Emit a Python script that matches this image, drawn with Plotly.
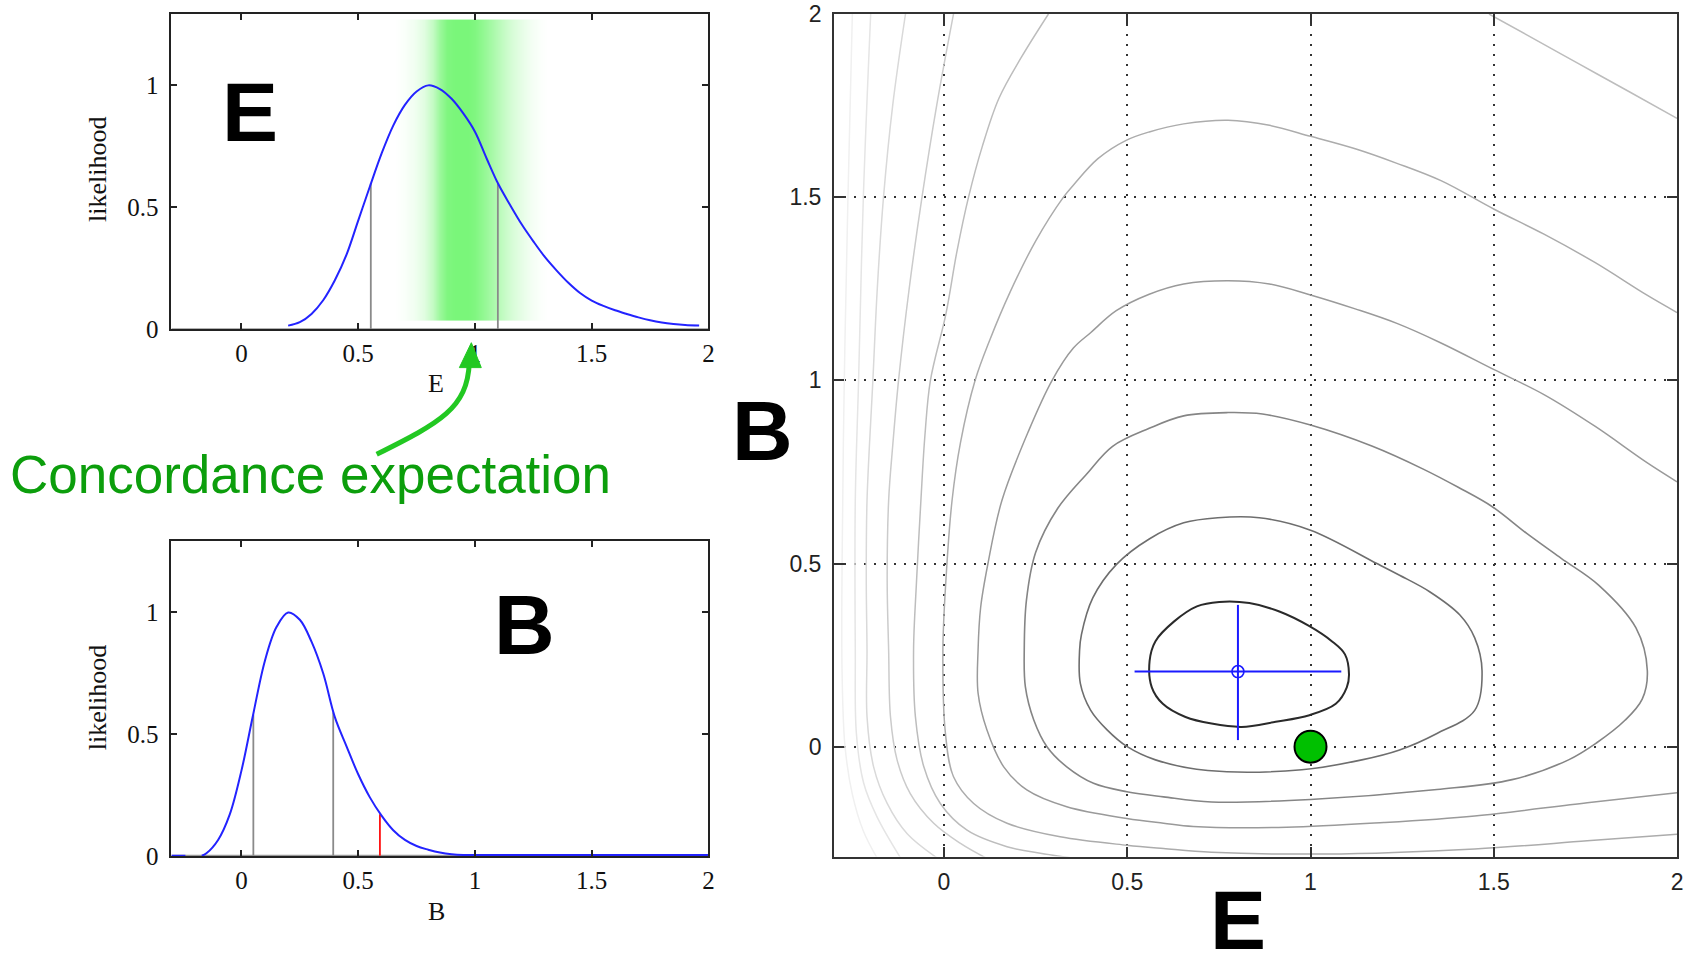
import plotly.graph_objects as go

W, H = 1691, 956

# ---------------- data ----------------
tick_vals = [0, 0.5, 1, 1.5, 2]
tick_text = ["0", "0.5", "1", "1.5", "2"]
like_tick_vals = [0, 0.5, 1]
like_tick_text = ["0", "0.5", "1"]

# E likelihood (top-left)
e_like_x = [0.20, 0.25, 0.30, 0.35, 0.40, 0.45, 0.50, 0.55, 0.60, 0.65, 0.70, 0.75, 0.80,
            0.85, 0.90, 0.95, 1.00, 1.05, 1.10, 1.15, 1.20, 1.25, 1.30, 1.35, 1.40, 1.45,
            1.50, 1.55, 1.60, 1.65, 1.70, 1.75, 1.80, 1.85, 1.90, 1.96]
e_like_y = [0.014, 0.028, 0.062, 0.118, 0.20, 0.305, 0.445, 0.585, 0.72, 0.835, 0.92, 0.975, 1.0,
            0.985, 0.945, 0.885, 0.81, 0.70, 0.595, 0.51, 0.43, 0.36, 0.295, 0.24, 0.19, 0.148,
            0.117, 0.095, 0.077, 0.062, 0.048, 0.036, 0.027, 0.021, 0.017, 0.015]
e_bound_x = [0.554, 1.098]
e_bound_y = [0.597, 0.597]

# concordance expectation band (relative strength across E)
band_e = [0.66, 0.70, 0.74, 0.78, 0.82, 0.85, 0.88, 0.92, 0.97, 1.00, 1.04, 1.08,
          1.12, 1.16, 1.20, 1.24, 1.28, 1.31]
band_level = [0, 0.04, 0.10, 0.22, 0.45, 0.75, 0.95, 1.0, 1.0, 0.95, 0.80, 0.62,
              0.45, 0.30, 0.18, 0.09, 0.03, 0]
band_b_edges = [0.034, 0.65, 1.27]

# B likelihood (bottom-left)
b_like_x = [-0.30, -0.24, None, -0.17, -0.15, -0.10, -0.05, 0.00, 0.05, 0.10, 0.15, 0.20,
            0.25, 0.30, 0.35, 0.40, 0.45, 0.50, 0.55, 0.60, 0.65, 0.70, 0.75, 0.80, 0.85,
            0.90, 0.95, 1.00, 2.00]
b_like_y = [0.0, 0.0, None, 0.0, 0.01, 0.065, 0.17, 0.35, 0.58, 0.80, 0.94, 1.0,
            0.97, 0.88, 0.75, 0.57, 0.45, 0.335, 0.24, 0.165, 0.105, 0.065, 0.04, 0.025, 0.013,
            0.006, 0.003, 0.003, 0.003]
b_bound_x = [0.051, 0.393]
b_bound_y = [0.58, 0.59]
b_obs_x = [0.593]
b_obs_y = [0.171]

# 2-D likelihood contours (E, B), innermost first
c1_e = [0.751, 0.833, 0.915, 0.997, 1.058, 1.094, 1.105, 1.099, 1.069, 0.997, 0.905, 0.812,
        0.73, 0.659, 0.597, 0.567, 0.561, 0.577, 0.628, 0.69, 0.751]
c1_b = [0.395, 0.392, 0.369, 0.329, 0.288, 0.252, 0.198, 0.162, 0.117, 0.086, 0.068, 0.054,
        0.063, 0.081, 0.117, 0.162, 0.234, 0.288, 0.342, 0.383, 0.395]

c2_e = [0.37, 0.375, 0.406, 0.47, 0.56, 0.654, 0.747, 0.86, 1.0, 1.181, 1.243, 1.325, 1.407,
        1.448, 1.468, 1.448, 1.345, 1.243, 1.14, 0.976, 0.72, 0.577, 0.5, 0.445, 0.4, 0.372, 0.37]
c2_b = [0.264, 0.306, 0.406, 0.497, 0.567, 0.611, 0.625, 0.625, 0.591, 0.5, 0.468, 0.423, 0.36,
        0.297, 0.207, 0.099, 0.036, -0.009, -0.036, -0.063, -0.065, -0.036, 0.0, 0.046, 0.10, 0.173, 0.264]

c3_e = [0.219, 0.225, 0.25, 0.31, 0.39, 0.46, 0.56, 0.654, 0.775, 0.869, 1.0, 1.169, 1.309, 1.403,
        1.496, 1.59, 1.684, 1.786, 1.888, 1.919, 1.905, 1.858, 1.78, 1.704, 1.55, 1.345, 1.0, 0.73,
        0.599, 0.499, 0.408, 0.335, 0.281, 0.245, 0.222, 0.219]
c3_b = [0.264, 0.40, 0.53, 0.65, 0.745, 0.82, 0.869, 0.903, 0.912, 0.908, 0.878, 0.82, 0.757, 0.708,
        0.655, 0.582, 0.514, 0.441, 0.324, 0.207, 0.13, 0.072, 0.01, -0.036, -0.09, -0.117, -0.144, -0.151,
        -0.137, -0.123, -0.10, -0.055, 0.0, 0.073, 0.164, 0.264]

c4_e = [2.0, 1.917, 1.777, 1.637, 1.501, 1.356, 1.234, 1.122, 1.0, 0.888, 0.775, 0.654, 0.56, 0.47,
        0.40, 0.353, 0.295, 0.23, 0.158, 0.12, 0.10, 0.093, 0.093, 0.117, 0.163, 0.226, 0.335, 0.499,
        0.599, 0.68, 0.935, 1.2, 1.448, 1.755, 2.0]
c4_b = [0.723, 0.776, 0.874, 0.961, 1.029, 1.102, 1.156, 1.195, 1.233, 1.263, 1.272, 1.263, 1.235, 1.19,
        1.13, 1.088, 1.0, 0.86, 0.672, 0.50, 0.38, 0.264, 0.146, 0.046, -0.055, -0.118, -0.164, -0.196,
        -0.209, -0.218, -0.22, -0.207, -0.189, -0.153, -0.126]

c5_e = [2.0, 1.917, 1.777, 1.637, 1.501, 1.356, 1.234, 1.122, 1.0, 0.888, 0.775, 0.654, 0.56, 0.497,
        0.42, 0.354, 0.326, 0.25, 0.18, 0.125, 0.085, 0.045, 0.022, 0.005, -0.003, 0.004, 0.026, 0.081,
        0.172, 0.317, 0.499, 0.599, 0.73, 1.038, 1.448, 1.755, 2.0]
c5_b = [1.185, 1.233, 1.321, 1.399, 1.467, 1.545, 1.593, 1.632, 1.666, 1.696, 1.71, 1.70, 1.678, 1.655,
        1.605, 1.534, 1.5, 1.38, 1.24, 1.11, 1.0, 0.83, 0.672, 0.45, 0.264, 0.036, -0.082, -0.155,
        -0.209, -0.246, -0.269, -0.278, -0.288, -0.293, -0.279, -0.257, -0.239]

c6_e = [0.285, 0.21, 0.15, 0.105, 0.067, 0.035, 0.005, -0.037, -0.052, -0.063, -0.075, -0.083, -0.078,
        -0.055, -0.01, 0.063, 0.172, 0.263, 0.345, None, 1.487, 1.59, 1.73, 1.871, 2.0]
c6_b = [2.0, 1.88, 1.77, 1.64, 1.5, 1.35, 1.18, 1.0, 0.85, 0.672, 0.45, 0.264, 0.082,
        -0.055, -0.155, -0.228, -0.273, -0.291, -0.303, None, 2.0, 1.943, 1.865, 1.787, 1.715]

c7_e = [0.026, -0.02, -0.06, -0.095, -0.124, -0.14, -0.151, -0.155, -0.151, -0.146, -0.128, -0.092,
        -0.028, 0.045, 0.113]
c7_b = [2.0, 1.75, 1.5, 1.25, 1.0, 0.82, 0.672, 0.45, 0.264, 0.082, -0.036, -0.128,
        -0.209, -0.264, -0.303]

c8_e = [-0.105, -0.14, -0.165, -0.182, -0.194, -0.21, -0.212, -0.21, -0.21, -0.192, -0.155, -0.101, -0.02]
c8_b = [2.0, 1.75, 1.5, 1.25, 1.0, 0.672, 0.45, 0.264, 0.082, -0.055, -0.155, -0.237, -0.303]

c9_e = [-0.2, -0.22, -0.233, -0.242, -0.242, -0.239, -0.219, -0.183, -0.119]
c9_b = [2.0, 1.5, 1.0, 0.672, 0.264, 0.036, -0.10, -0.191, -0.303]

c10_e = [-0.25, -0.262, -0.272, -0.278, -0.278, -0.27, -0.25, -0.22, -0.183]
c10_b = [2.0, 1.5, 1.0, 0.5, 0.2, 0.0, -0.13, -0.23, -0.303]

best_e = [0.802]
best_b = [0.205]
best_e_err = [0.52, 1.084]
best_b_err = [0.018, 0.387]
concord_e = [1.0]
concord_b = [0.0]

contours = [(c1_e, c1_b), (c2_e, c2_b), (c3_e, c3_b), (c4_e, c4_b), (c5_e, c5_b),
            (c6_e, c6_b), (c7_e, c7_b), (c8_e, c8_b), (c9_e, c9_b), (c10_e, c10_b)]
contour_colors = ["#2a2a2a", "#6e6e6e", "#858585", "#9a9a9a", "#acacac",
                  "#bdbdbd", "#cbcbcb", "#d9d9d9", "#e5e5e5", "#f0f0f0"]
contour_widths = [2, 1.6, 1.6, 1.5, 1.5, 1.5, 1.5, 1.5, 1.5, 1.5]

# placement helpers: pixel positions measured on the reference -> paper fractions
X_SHIFT = 3.0
Y_OFF, Y_SCALE = 11.2, 0.975


def px(x):
    return (x + X_SHIFT) / W


def py(y):
    ly = (y - Y_OFF) / Y_SCALE
    ly = min(max(ly, 1.0), H)
    return 1 - ly / H


fig = go.Figure()

# ---- top-left: E likelihood ----
fig.add_trace(go.Heatmap(x=band_e, y=band_b_edges, z=[band_level, band_level],
                         zsmooth="best", showscale=False, hoverinfo="skip",
                         colorscale=[[0, "rgb(255,255,255)"], [1, "rgb(122,246,122)"]],
                         zmin=0, zmax=1, xaxis="x", yaxis="y"))
fig.add_trace(go.Scatter(x=[-0.3, 2], y=[0, 0], mode="lines",
                         line=dict(color="#999999", width=1.5), xaxis="x", yaxis="y"))
vx, vy = [], []
for xv, yv in zip(e_bound_x, e_bound_y):
    vx += [xv, xv, None]
    vy += [0, yv, None]
fig.add_trace(go.Scatter(x=vx, y=vy, mode="lines", line=dict(color="#8a8a8a", width=1.8),
                         xaxis="x", yaxis="y"))
fig.add_trace(go.Scatter(x=e_like_x, y=e_like_y, mode="lines", line=dict(color="#2323ff", width=2),
                         line_shape="spline", xaxis="x", yaxis="y"))

# ---- bottom-left: B likelihood ----
fig.add_trace(go.Scatter(x=[-0.3, 2], y=[0, 0], mode="lines",
                         line=dict(color="#999999", width=2), xaxis="x2", yaxis="y2"))
vx, vy = [], []
for xv, yv in zip(b_bound_x, b_bound_y):
    vx += [xv, xv, None]
    vy += [0, yv, None]
fig.add_trace(go.Scatter(x=vx, y=vy, mode="lines", line=dict(color="#8a8a8a", width=1.8),
                         xaxis="x2", yaxis="y2"))
fig.add_trace(go.Scatter(x=[b_obs_x[0], b_obs_x[0]], y=[0, b_obs_y[0]], mode="lines",
                         line=dict(color="#ff1010", width=1.8), xaxis="x2", yaxis="y2"))
fig.add_trace(go.Scatter(x=b_like_x, y=b_like_y, mode="lines", line=dict(color="#2323ff", width=2),
                         line_shape="spline", connectgaps=False, xaxis="x2", yaxis="y2"))

# ---- right: 2-D contours ----
for (ce, cb), col, w in reversed(list(zip(contours, contour_colors, contour_widths))):
    fig.add_trace(go.Scatter(x=ce, y=cb, mode="lines", line=dict(color=col, width=w),
                             line_shape="spline", connectgaps=False, xaxis="x3", yaxis="y3"))
fig.add_trace(go.Scatter(x=best_e_err + [None, best_e[0], best_e[0]],
                         y=[best_b[0], best_b[0], None] + best_b_err,
                         mode="lines", line=dict(color="#1a1aff", width=2), xaxis="x3", yaxis="y3"))
fig.add_trace(go.Scatter(x=best_e, y=best_b, mode="markers",
                         marker=dict(symbol="circle-open", size=12, color="#1a1aff",
                                     line=dict(width=1.6, color="#1a1aff")),
                         xaxis="x3", yaxis="y3"))
fig.add_trace(go.Scatter(x=concord_e, y=concord_b, mode="markers",
                         marker=dict(size=32, color="#00c000", line=dict(color="#000000", width=2)),
                         xaxis="x3", yaxis="y3"))

# ---- axes ----
serif = dict(family="Liberation Serif", size=25, color="#111111")
sans = dict(family="Liberation Sans", size=23, color="#222222")
left_common = dict(showline=True, linecolor="#222222", linewidth=2, mirror="ticks",
                   ticks="inside", ticklen=6, tickwidth=1.5, tickcolor="#222222",
                   showgrid=False, zeroline=False, tickfont=serif, fixedrange=True,
                   ticklabeloverflow="allow")
right_common = dict(showline=True, linecolor="#333333", linewidth=2, mirror="ticks",
                    ticks="inside", ticklen=10, tickwidth=2, tickcolor="#333333",
                    showgrid=True, gridcolor="#333333", gridwidth=1.6, griddash="2px,8px",
                    zeroline=False, tickfont=sans, fixedrange=True, ticklabeloverflow="allow",
                    tickvals=tick_vals, ticktext=tick_text, range=[-0.3, 2])

fig.update_layout(
    width=W, height=H, margin=dict(l=0, r=0, t=0, b=0),
    paper_bgcolor="white", plot_bgcolor="white", showlegend=False,
    xaxis=dict(domain=[px(169), px(708)], range=[-0.3, 2], anchor="y",
               tickvals=tick_vals, ticktext=tick_text, ticklabelstandoff=1, **left_common),
    yaxis=dict(domain=[py(328.3), py(10.7)], range=[0, 1.293], anchor="x",
               tickvals=like_tick_vals, ticktext=like_tick_text, ticklabelstandoff=6, **left_common),
    xaxis2=dict(domain=[px(169), px(708)], range=[-0.3, 2], anchor="y2",
                tickvals=tick_vals, ticktext=tick_text, ticklabelstandoff=1, **left_common),
    yaxis2=dict(domain=[py(857.5), py(540.7)], range=[-0.003, 1.295], anchor="x2",
                tickvals=like_tick_vals, ticktext=like_tick_text, ticklabelstandoff=6, **left_common),
    xaxis3=dict(domain=[px(834), px(1680)], anchor="y3", ticklabelstandoff=4, **right_common),
    yaxis3=dict(domain=[py(857.6), py(10.7)], anchor="x3", ticklabelstandoff=6, **right_common),
)

# ---- text ----
def note(text, x, y, font, angle=0, xanchor="center"):
    fig.add_annotation(text=text, x=px(x), y=py(y), xref="paper", yref="paper",
                       showarrow=False, font=font, textangle=angle,
                       xanchor=xanchor, yanchor="middle")


label_font = dict(family="Liberation Serif", size=26, color="#111111")
big_font = dict(family="Liberation Sans", size=84, color="#000000")
note("likelihood", 95, 168, label_font, angle=-90)
note("likelihood", 95, 698, label_font, angle=-90)
note("E", 435, 383, label_font)
note("B", 435, 913, label_font)
note("<b>E</b>", 248, 111, big_font)
note("<b>B</b>", 523, 625, big_font)
note("<b>B</b>", 762, 431, big_font)
note("<b>E</b>", 1239, 921, big_font)
note("Concordance expectation", 5, 474, dict(family="Liberation Sans", size=53, color="#0c9e0c"),
     xanchor="left")

# ---- curved green arrow ----
arrow_path = (f"M {px(375):.5f},{py(454):.5f} C {px(439):.5f},{py(422):.5f} "
              f"{px(466):.5f},{py(408):.5f} {px(468):.5f},{py(362):.5f}")
fig.add_shape(type="path", path=arrow_path, xref="paper", yref="paper",
              line=dict(color="#22c822", width=5))
head_path = (f"M {px(458):.5f},{py(367):.5f} L {px(480):.5f},{py(367):.5f} "
             f"L {px(470):.5f},{py(342):.5f} Z")
fig.add_shape(type="path", path=head_path, xref="paper", yref="paper",
              line=dict(color="#22c822", width=1), fillcolor="#22c822")

pin_page = (
    "document.documentElement.style.margin='0';"
    "document.documentElement.style.padding='0';"
    "document.body.style.margin='0';document.body.style.padding='0';"
    "document.body.style.overflow='hidden';"
    "var gd=document.getElementById('{plot_id}');"
    "gd.style.position='fixed';gd.style.left='0px';gd.style.top='0px';"
)
fig.write_html("out.html", config={"displayModeBar": False}, post_script=pin_page)
